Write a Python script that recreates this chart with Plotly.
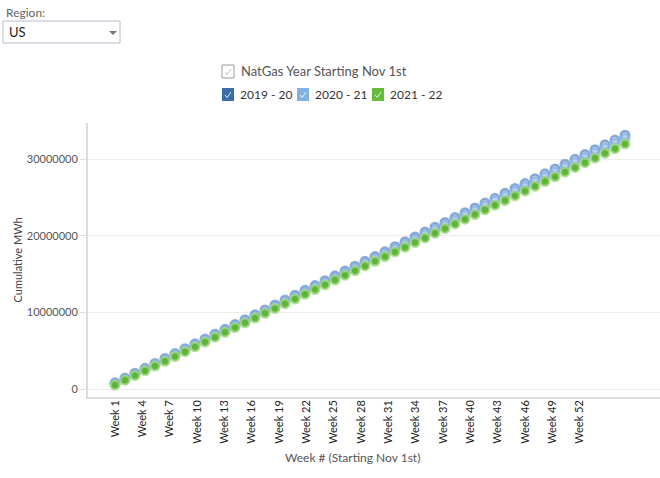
import plotly.graph_objects as go

# ---------------- data ----------------
weeks = [f"Week {i}" for i in range(1, 53)]
tick_weeks = [f"Week {i}" for i in range(1, 53, 3)]

season_labels = ["2019 - 20", "2020 - 21", "2021 - 22"]

cum_2019_20 = [800000, 1430000, 2060000, 2700000, 3340000, 3980000, 4620000, 5260000,
               5890000, 6520000, 7150000, 7780000, 8410000, 9040000, 9680000, 10320000,
               10960000, 11600000, 12240000, 12870000, 13500000, 14130000, 14760000, 15390000,
               16020000, 16650000, 17280000, 17920000, 18560000, 19200000, 19840000, 20470000,
               21100000, 21730000, 22360000, 22990000, 23620000, 24250000, 24880000, 25520000,
               26160000, 26800000, 27440000, 28070000, 28700000, 29330000, 29960000, 30590000,
               31220000, 31850000, 32480000, 33110000]

cum_2020_21 = [720000, 1340000, 1960000, 2590000, 3220000, 3850000, 4480000, 5110000,
               5740000, 6370000, 6990000, 7610000, 8230000, 8860000, 9490000, 10120000,
               10750000, 11380000, 12010000, 12640000, 13270000, 13890000, 14510000, 15130000,
               15760000, 16390000, 17020000, 17650000, 18280000, 18910000, 19530000, 20150000,
               20770000, 21400000, 22030000, 22660000, 23290000, 23920000, 24550000, 25180000,
               25810000, 26430000, 27050000, 27680000, 28310000, 28940000, 29570000, 30200000,
               30830000, 31450000, 32070000, 32700000]

cum_2021_22 = [520000, 1130000, 1750000, 2370000, 2990000, 3610000, 4240000, 4870000,
               5500000, 6130000, 6760000, 7390000, 8010000, 8630000, 9250000, 9870000,
               10490000, 11110000, 11730000, 12350000, 12970000, 13590000, 14210000, 14830000,
               15440000, 16050000, 16660000, 17270000, 17880000, 18490000, 19100000, 19710000,
               20320000, 20930000, 21540000, 22150000, 22760000, 23370000, 23980000, 24590000,
               25210000, 25830000, 26450000, 27070000, 27690000, 28300000, 28910000, 29520000,
               30130000, 30740000, 31350000, 31960000]

y_ticks = [0, 10000000, 20000000, 30000000]

# ---------------- styling ----------------
W, H = 660, 478
L, R, T, B = 88, 0, 123, 81
PW, PH = W - L - R, H - T - B
FONT = "Lato, 'Open Sans', sans-serif"

fill_cols = ["rgba(130,168,215,0.45)", "rgba(170,202,240,0.5)", "#5cb536"]
line_cols = ["rgba(85,130,195,0.65)", "rgba(130,175,228,0.7)", "rgba(160,214,130,0.75)"]
box_cols = ["#3a6ea8", "#82b1e2", "#66bb3a"]


def px(x):
    return (x - L) / PW


def py(y):
    return (H - B - y) / PH


fig = go.Figure()
for name, vals, fc, lc in zip(season_labels, [cum_2019_20, cum_2020_21, cum_2021_22],
                              fill_cols, line_cols):
    fig.add_trace(go.Scatter(
        x=weeks, y=vals, mode="markers", name=name, showlegend=False,
        marker=dict(size=8.5, color=fc, line=dict(color=lc, width=2.5)),
    ))

# empty trace to carry the label axis
fig.add_trace(go.Scatter(x=[], y=[], xaxis="x2", showlegend=False, hoverinfo="skip"))

shapes = []
annotations = []


def check_path(bx, by):
    return (f"M {px(bx + 3)} {py(by + 6.5)} L {px(bx + 5.2)} {py(by + 9)} "
            f"L {px(bx + 9)} {py(by + 3.5)}")


# Region dropdown mock
annotations.append(dict(x=px(4), y=py(12), xref="paper", yref="paper", text="Region:",
                        showarrow=False, xanchor="left", yanchor="middle",
                        font=dict(family=FONT, size=12, color="#666")))
shapes.append(dict(type="rect", xref="paper", yref="paper", x0=px(3), x1=px(120),
                   y0=py(43), y1=py(21), line=dict(color="#b8bccc", width=1),
                   fillcolor="white"))
annotations.append(dict(x=px(7), y=py(32), xref="paper", yref="paper", text="US",
                        showarrow=False, xanchor="left", yanchor="middle",
                        font=dict(family=FONT, size=13, color="#222")))
shapes.append(dict(type="path", xref="paper", yref="paper",
                   path=f"M {px(109)} {py(31)} L {px(117)} {py(31)} L {px(113)} {py(35)} Z",
                   fillcolor="#777", line=dict(width=0)))

# legend title checkbox
shapes.append(dict(type="rect", xref="paper", yref="paper", x0=px(222), x1=px(234),
                   y0=py(78), y1=py(65), line=dict(color="#999", width=1), fillcolor="white"))
shapes.append(dict(type="path", xref="paper", yref="paper", path=check_path(222, 65.5),
                   line=dict(color="#bbb", width=1)))
annotations.append(dict(x=px(239), y=py(71), xref="paper", yref="paper",
                        text="NatGas Year Starting Nov 1st", showarrow=False,
                        xanchor="left", yanchor="middle",
                        font=dict(family=FONT, size=13, color="#555")))

# legend items
box_x = [222, 297, 372]
for bx, lab, bc in zip(box_x, season_labels, box_cols):
    shapes.append(dict(type="rect", xref="paper", yref="paper", x0=px(bx), x1=px(bx + 12),
                       y0=py(101), y1=py(88), line=dict(width=0), fillcolor=bc))
    shapes.append(dict(type="path", xref="paper", yref="paper", path=check_path(bx, 88.5),
                       line=dict(color="rgba(255,255,255,0.85)", width=1)))
    annotations.append(dict(x=px(bx + 16), y=py(94.5), xref="paper", yref="paper", text=lab,
                            showarrow=False, xanchor="left", yanchor="middle",
                            font=dict(family=FONT, size=12, color="#333")))

# axis titles
annotations.append(dict(x=px(352), y=py(467), xref="paper", yref="paper",
                        text="Week # (Starting Nov 1st)", showarrow=False,
                        font=dict(family=FONT, size=12, color="#555")))
annotations.append(dict(x=px(8), y=py(260), xref="paper", yref="paper",
                        text="Cumulative MWh", showarrow=False, textangle=-90,
                        font=dict(family=FONT, size=11, color="#444")))

fig.update_layout(
    width=W, height=H,
    margin=dict(l=L, r=R, t=T, b=B),
    paper_bgcolor="white", plot_bgcolor="white",
    showlegend=False,
    shapes=shapes, annotations=annotations,
    xaxis=dict(type="category", categoryarray=weeks, range=[-2.7, 54.5],
               showticklabels=False, ticks="", showgrid=False, zeroline=False,
               showline=True, linecolor="#dcdcdc", linewidth=2),
    xaxis2=dict(overlaying="x", anchor="y", side="bottom", type="linear",
                range=[-2.96, 59.8], tickvals=list(range(0, 52, 3)), ticktext=tick_weeks,
                tickangle=-90, showgrid=False, zeroline=False, showline=False, ticks="",
                tickfont=dict(family=FONT, size=11, color="#222")),
    yaxis=dict(range=[-1043000, 34700000], tickvals=y_ticks, tickformat="d",
               showgrid=True, gridcolor="#ececec", gridwidth=1, zeroline=False,
               showline=True, linecolor="#dcdcdc", linewidth=2,
               ticks="outside", ticklen=6, tickcolor="#e0e0e0",
               tickfont=dict(family=FONT, size=11, color="#555")),
)

fig.write_html("out.html", config={"displayModeBar": False},
               post_script="document.body.style.margin='0';document.body.style.padding='0';")
